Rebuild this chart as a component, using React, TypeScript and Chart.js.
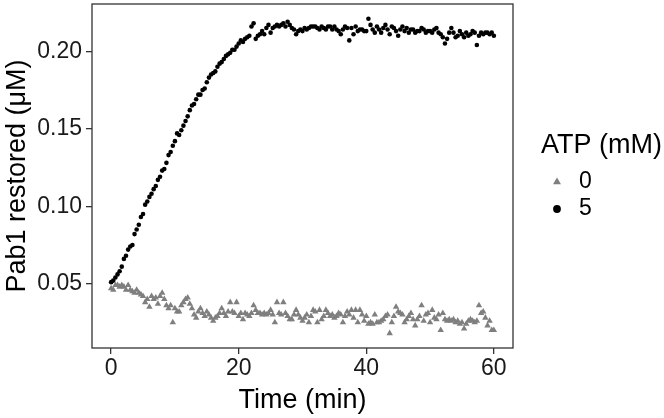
import React, { useEffect, useRef } from "react";
import { Chart, registerables } from "chart.js";

Chart.register(...registerables);

// Sampling interval of the measurements (20 s), in minutes
const TIME_STEP_MIN = 1 / 3;

// Pab1 restored (µM), ATP = 0 mM (grey triangles)
const atp0Values = [
  0.047, 0.046, 0.049, 0.049, 0.048, 0.049, 0.048, 0.046, 0.049, 0.046,
  0.045, 0.044, 0.046, 0.044, 0.043, 0.042, 0.038, 0.040, 0.035, 0.042,
  0.040, 0.041, 0.037, 0.042, 0.044, 0.040, 0.036, 0.034, 0.036, 0.025,
  0.034, 0.032, 0.032, 0.036, 0.038, 0.040, 0.041, 0.037, 0.034, 0.030,
  0.028, 0.032, 0.034, 0.031, 0.029, 0.032, 0.030, 0.028, 0.026, 0.028,
  0.029, 0.031, 0.034, 0.031, 0.029, 0.032, 0.038, 0.032, 0.031, 0.038,
  0.029, 0.031, 0.027, 0.031, 0.030, 0.029, 0.031, 0.036, 0.033, 0.031,
  0.031, 0.030, 0.031, 0.030, 0.031, 0.033, 0.030, 0.025, 0.038, 0.031,
  0.030, 0.038, 0.031, 0.029, 0.027, 0.027, 0.030, 0.033, 0.030, 0.028,
  0.026, 0.028, 0.030, 0.025, 0.029, 0.033, 0.032, 0.025, 0.033, 0.027,
  0.029, 0.033, 0.031, 0.029, 0.030, 0.028, 0.029, 0.031, 0.030, 0.025,
  0.029, 0.032, 0.030, 0.033, 0.028, 0.033, 0.025, 0.033, 0.030, 0.026,
  0.029, 0.024, 0.025, 0.024, 0.030, 0.025, 0.025, 0.026, 0.027, 0.029,
  0.030, 0.018, 0.025, 0.029, 0.035, 0.032, 0.031, 0.030, 0.025, 0.027,
  0.029, 0.031, 0.027, 0.023, 0.027, 0.029, 0.036, 0.026, 0.030, 0.031,
  0.025, 0.033, 0.028, 0.027, 0.030, 0.020, 0.031, 0.027, 0.026, 0.027,
  0.026, 0.027, 0.025, 0.026, 0.024, 0.025, 0.021, 0.024, 0.026, 0.027,
  0.026, 0.025, 0.026, 0.036, 0.031, 0.032, 0.028, 0.023, 0.026, 0.020,
  0.020,
];

// Pab1 restored (µM), ATP = 5 mM (black dots)
const atp5Values = [
  0.051, 0.052, 0.054, 0.056, 0.058, 0.061, 0.066, 0.068, 0.072, 0.074,
  0.075, 0.082, 0.085, 0.088, 0.093, 0.095, 0.101, 0.103, 0.106, 0.108,
  0.111, 0.113, 0.117, 0.119, 0.123, 0.124, 0.128, 0.133, 0.135, 0.139,
  0.142, 0.147, 0.146, 0.149, 0.152, 0.155, 0.158, 0.162, 0.165, 0.166,
  0.169, 0.172, 0.172, 0.175, 0.176, 0.180, 0.183, 0.185, 0.186, 0.187,
  0.190, 0.192, 0.193, 0.195, 0.197, 0.198, 0.199, 0.201, 0.201, 0.203,
  0.205, 0.207, 0.206, 0.208, 0.209, 0.210, 0.216, 0.218, 0.208, 0.210,
  0.211, 0.213, 0.211, 0.215, 0.217, 0.212, 0.215, 0.216, 0.217, 0.216,
  0.217, 0.218, 0.216, 0.219, 0.217, 0.215, 0.214, 0.211, 0.213, 0.214,
  0.213, 0.215, 0.214, 0.215, 0.216, 0.216, 0.216, 0.215, 0.214, 0.216,
  0.215, 0.214, 0.216, 0.216, 0.214, 0.216, 0.214, 0.213, 0.211, 0.214,
  0.216, 0.215, 0.207, 0.215, 0.211, 0.216, 0.213, 0.214, 0.214, 0.213,
  0.213, 0.221, 0.217, 0.214, 0.212, 0.216, 0.214, 0.212, 0.215, 0.217,
  0.214, 0.211, 0.216, 0.215, 0.213, 0.210, 0.214, 0.216, 0.213, 0.215,
  0.212, 0.214, 0.214, 0.212, 0.213, 0.213, 0.215, 0.214, 0.212, 0.213,
  0.213, 0.212, 0.214, 0.215, 0.212, 0.211, 0.209, 0.205, 0.208, 0.212,
  0.215, 0.212, 0.209, 0.210, 0.213, 0.211, 0.209, 0.212, 0.210, 0.211,
  0.213, 0.212, 0.204, 0.210, 0.212, 0.211, 0.212, 0.212, 0.211, 0.212,
  0.210,
];

const seriesLabels = ["0", "5"];
const xTickValues = [0, 20, 40, 60];
const yTickValues = [0.05, 0.1, 0.15, 0.2];
const legendTitle = "ATP (mM)";
const xTitle = "Time (min)";
const yTitle = "Pab1 restored (\u03bcM)";

const FONT = "'Liberation Sans', Arial, Helvetica, sans-serif";
const GREY = "#7f7f7f";
const BLACK = "#000000";
const AXIS = "#333333";
const TICK_SIZE = 23;
const TITLE_SIZE = 27;

const toPoints = (vals: number[]) =>
  vals.map((v, i) => ({ x: i * TIME_STEP_MIN, y: v }));

const frameAndLegend = {
  id: "frameAndLegend",
  afterDraw(chart: any) {
    const { ctx, chartArea } = chart;
    ctx.save();
    // panel border
    ctx.strokeStyle = AXIS;
    ctx.lineWidth = 1.3;
    ctx.strokeRect(
      chartArea.left,
      chartArea.top,
      chartArea.right - chartArea.left,
      chartArea.bottom - chartArea.top
    );
    // legend
    ctx.fillStyle = "#000";
    ctx.textBaseline = "middle";
    ctx.textAlign = "left";
    ctx.font = `${TITLE_SIZE}px ${FONT}`;
    ctx.fillText(legendTitle, 541, 146);
    ctx.font = `${TICK_SIZE}px ${FONT}`;
    // triangle key
    const tx = 557, ty = 182, r = 4.6;
    ctx.fillStyle = GREY;
    ctx.beginPath();
    ctx.moveTo(tx, ty - r);
    ctx.lineTo(tx + r * 0.866, ty + r * 0.5);
    ctx.lineTo(tx - r * 0.866, ty + r * 0.5);
    ctx.closePath();
    ctx.fill();
    ctx.fillStyle = "#000";
    ctx.fillText(seriesLabels[0], 579, 182);
    // circle key
    ctx.beginPath();
    ctx.arc(557, 209, 3.9, 0, Math.PI * 2);
    ctx.fill();
    ctx.fillText(seriesLabels[1], 579, 209);
    ctx.restore();
  },
};

export default function App() {
  const ref = useRef<HTMLCanvasElement | null>(null);
  useEffect(() => {
    if (!ref.current) return;
    const chart = new Chart(ref.current, {
      type: "scatter",
      data: {
        datasets: [
          {
            label: seriesLabels[0],
            data: toPoints(atp0Values),
            pointStyle: "triangle",
            pointRadius: 3.7,
            pointBackgroundColor: GREY,
            pointBorderWidth: 0,
            borderWidth: 0,
          },
          {
            label: seriesLabels[1],
            data: toPoints(atp5Values),
            pointStyle: "circle",
            pointRadius: 2.3,
            pointBackgroundColor: BLACK,
            pointBorderWidth: 0,
            borderWidth: 0,
          },
        ],
      },
      options: {
        animation: false,
        responsive: false,
        devicePixelRatio: 1,
        layout: { padding: { top: 4, right: 151, left: 0, bottom: 0 } },
        plugins: {
          legend: { display: false },
          tooltip: { enabled: false },
        },
        scales: {
          x: {
            type: "linear",
            min: -3,
            max: 63,
            afterBuildTicks: (s: any) => {
              s.ticks = xTickValues.map((v) => ({ value: v }));
            },
            afterFit: (s: any) => {
              s.height = 70;
              s.paddingLeft = 0;
              s.paddingRight = 0;
            },
            ticks: {
              font: { family: FONT, size: TICK_SIZE },
              color: "#1a1a1a",
              padding: 1,
              maxRotation: 0,
              callback: (v: any) => String(v),
            },
            grid: {
              display: true,
              drawOnChartArea: false,
              drawTicks: true,
              tickLength: 6,
              color: AXIS,
              lineWidth: 1.3,
            },
            border: { display: false },
            title: {
              display: true,
              text: xTitle,
              color: "#000",
              font: { family: FONT, size: TITLE_SIZE },
              padding: { top: 0, bottom: 1 },
            },
          },
          y: {
            type: "linear",
            min: 0.0085,
            max: 0.2305,
            afterBuildTicks: (s: any) => {
              s.ticks = yTickValues.map((v) => ({ value: v }));
            },
            afterFit: (s: any) => {
              s.width = 92;
              s.paddingTop = 0;
              s.paddingBottom = 0;
            },
            ticks: {
              font: { family: FONT, size: TICK_SIZE },
              color: "#1a1a1a",
              padding: 4,
              callback: (v: any) => Number(v).toFixed(2),
            },
            grid: {
              display: true,
              drawOnChartArea: false,
              drawTicks: true,
              tickLength: 6,
              color: AXIS,
              lineWidth: 1.3,
            },
            border: { display: false },
            title: {
              display: true,
              text: yTitle,
              color: "#000",
              font: { family: FONT, size: TITLE_SIZE },
              padding: { top: 1, bottom: 0 },
            },
          },
        },
      },
      plugins: [frameAndLegend],
    } as any);
    return () => chart.destroy();
  }, []);
  return (
    <div style={{ position: "absolute", left: 0, top: 0, width: 664, height: 418, background: "#fff" }}>
      <canvas ref={ref} width={664} height={418} style={{ width: 664, height: 418, display: "block" }} />
    </div>
  );
}
